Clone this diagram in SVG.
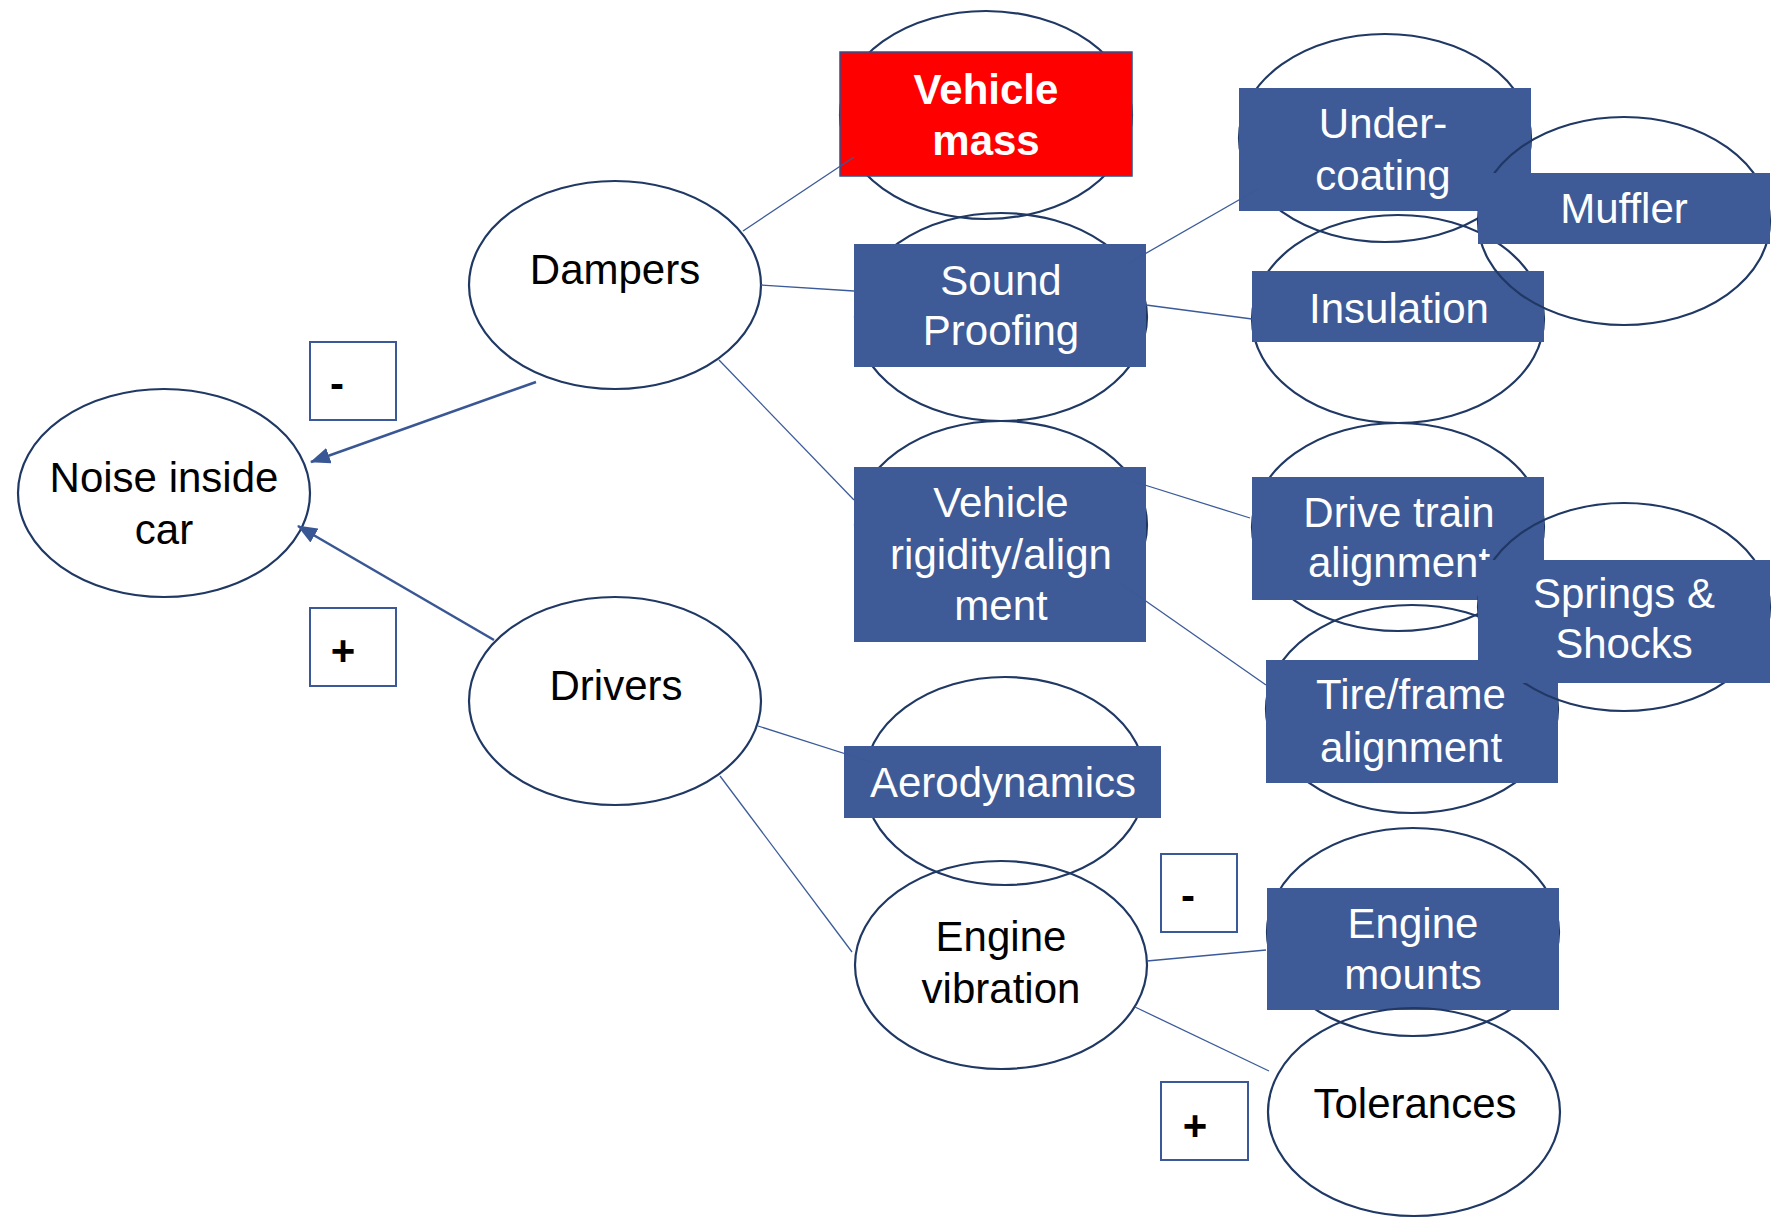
<svg xmlns="http://www.w3.org/2000/svg" width="1783" height="1219" viewBox="0 0 1783 1219">
<defs>
<style>
.ell{fill:none;stroke:#1F3864;stroke-width:2.2}
.box{fill:#3E5A97}
.red{fill:#FF0000;stroke:#2F528F;stroke-width:1.5}
.sign{fill:#FFFFFF;stroke:#3B5998;stroke-width:2}
.t{font-family:"Liberation Sans",Arial,sans-serif;font-size:42px;text-anchor:middle}
.tb{fill:#000000}
.tw{fill:#FFFFFF}
.bold{font-weight:bold}
.con{stroke:#3B5A99;stroke-width:1.3;fill:none}
.arr{stroke:#3A5795;stroke-width:2.6;fill:none}
</style>
<marker id="ah" markerUnits="userSpaceOnUse" markerWidth="20" markerHeight="16" viewBox="0 0 20 16" refX="19" refY="8" orient="auto">
<path d="M0,0 L20,8 L0,16 z" fill="#3A5795"/>
</marker>
</defs>
<rect width="1783" height="1219" fill="#FFFFFF"/>

<g id="noise">
<ellipse class="ell" cx="164" cy="493" rx="146" ry="104"/>
<text class="t tb" x="164" y="492">Noise inside</text>
<text class="t tb" x="164" y="544">car</text>
</g>
<g id="dampers">
<ellipse class="ell" cx="615" cy="285" rx="146" ry="104"/>
<text class="t tb" x="615" y="284">Dampers</text>
</g>
<g id="drivers">
<ellipse class="ell" cx="615" cy="701" rx="146" ry="104"/>
<text class="t tb" x="616" y="700">Drivers</text>
</g>
<g id="vehicle-mass">
<ellipse class="ell" cx="986" cy="115" rx="146" ry="104"/>
<rect class="red" x="840" y="52" width="292" height="124"/>
<text class="t tw bold" x="986" y="104">Vehicle</text>
<text class="t tw bold" x="986" y="155">mass</text>
</g>
<g id="sound-proofing">
<ellipse class="ell" cx="1001" cy="317" rx="146" ry="104"/>
<rect class="box" x="854" y="244" width="292" height="123"/>
<text class="t tw" x="1001" y="295">Sound</text>
<text class="t tw" x="1001" y="345">Proofing</text>
</g>
<g id="vehicle-rigidity">
<ellipse class="ell" cx="1001" cy="525" rx="146" ry="104"/>
<rect class="box" x="854" y="467" width="292" height="175"/>
<text class="t tw" x="1001" y="517">Vehicle</text>
<text class="t tw" x="1001" y="569">rigidity/align</text>
<text class="t tw" x="1001" y="620">ment</text>
</g>
<g id="aerodynamics">
<ellipse class="ell" cx="1005" cy="781" rx="141" ry="104"/>
<rect class="box" x="844" y="746" width="317" height="72"/>
<text class="t tw" x="1003" y="797">Aerodynamics</text>
</g>
<g id="engine-vibration">
<ellipse class="ell" cx="1001" cy="965" rx="146" ry="104"/>
<text class="t tb" x="1001" y="951">Engine</text>
<text class="t tb" x="1001" y="1003">vibration</text>
</g>
<g id="under-coating">
<ellipse class="ell" cx="1385" cy="138" rx="146" ry="104"/>
<rect class="box" x="1239" y="88" width="292" height="123"/>
<text class="t tw" x="1383" y="138">Under-</text>
<text class="t tw" x="1383" y="190">coating</text>
</g>
<g id="insulation">
<ellipse class="ell" cx="1398" cy="319" rx="146" ry="104"/>
<rect class="box" x="1252" y="271" width="292" height="71"/>
<text class="t tw" x="1399" y="323">Insulation</text>
</g>
<g id="muffler">
<ellipse class="ell" cx="1624" cy="221" rx="146" ry="104"/>
<rect class="box" x="1478" y="173" width="292" height="71"/>
<text class="t tw" x="1624" y="223">Muffler</text>
</g>
<g id="drive-train">
<ellipse class="ell" cx="1398" cy="527" rx="146" ry="104"/>
<rect class="box" x="1252" y="477" width="292" height="123"/>
<text class="t tw" x="1399" y="527">Drive train</text>
<text class="t tw" x="1399" y="577">alignment</text>
</g>
<g id="tire-frame">
<ellipse class="ell" cx="1412" cy="709" rx="146" ry="104"/>
<rect class="box" x="1266" y="660" width="292" height="123"/>
<text class="t tw" x="1411" y="709">Tire/frame</text>
<text class="t tw" x="1411" y="762">alignment</text>
</g>
<g id="springs-shocks">
<ellipse class="ell" cx="1624" cy="607" rx="146" ry="104"/>
<rect class="box" x="1478" y="560" width="292" height="123"/>
<text class="t tw" x="1624" y="608">Springs &amp;</text>
<text class="t tw" x="1624" y="658">Shocks</text>
</g>
<g id="engine-mounts">
<ellipse class="ell" cx="1413" cy="932" rx="146" ry="104"/>
<rect class="box" x="1267" y="888" width="292" height="122"/>
<text class="t tw" x="1413" y="938">Engine</text>
<text class="t tw" x="1413" y="989">mounts</text>
</g>
<g id="tolerances">
<ellipse class="ell" cx="1414" cy="1112" rx="146" ry="104"/>
<text class="t tb" x="1415" y="1118">Tolerances</text>
</g>

<g id="sign-minus-1">
<rect class="sign" x="310" y="342" width="86" height="78"/>
<text class="t tb bold" x="337" y="398">-</text>
</g>
<g id="sign-plus-1">
<rect class="sign" x="310" y="608" width="86" height="78"/>
<text class="t tb bold" x="343" y="665">+</text>
</g>
<g id="sign-minus-2">
<rect class="sign" x="1161" y="854" width="76" height="78"/>
<text class="t tb bold" x="1188" y="910">-</text>
</g>
<g id="sign-plus-2">
<rect class="sign" x="1161" y="1082" width="87" height="78"/>
<text class="t tb bold" x="1195" y="1140">+</text>
</g>

<g id="connectors">
<line class="con" x1="743" y1="231" x2="854" y2="157"/>
<line class="con" x1="761" y1="285" x2="854" y2="291"/>
<line class="con" x1="719" y1="360" x2="854" y2="500"/>
<line class="con" x1="1129" y1="263" x2="1258" y2="189"/>
<line class="con" x1="1146" y1="305" x2="1252" y2="319"/>
<line class="con" x1="1132" y1="481" x2="1250" y2="518"/>
<line class="con" x1="1120" y1="583" x2="1266" y2="685"/>
<line class="con" x1="758" y1="726" x2="871" y2="762"/>
<line class="con" x1="720" y1="776" x2="852" y2="952"/>
<line class="con" x1="1147" y1="961" x2="1266" y2="950"/>
<line class="con" x1="1135" y1="1007" x2="1269" y2="1071"/>
<line class="arr" x1="536" y1="382" x2="311" y2="462" marker-end="url(#ah)"/>
<line class="arr" x1="494" y1="640" x2="298" y2="526" marker-end="url(#ah)"/>
</g>
</svg>
